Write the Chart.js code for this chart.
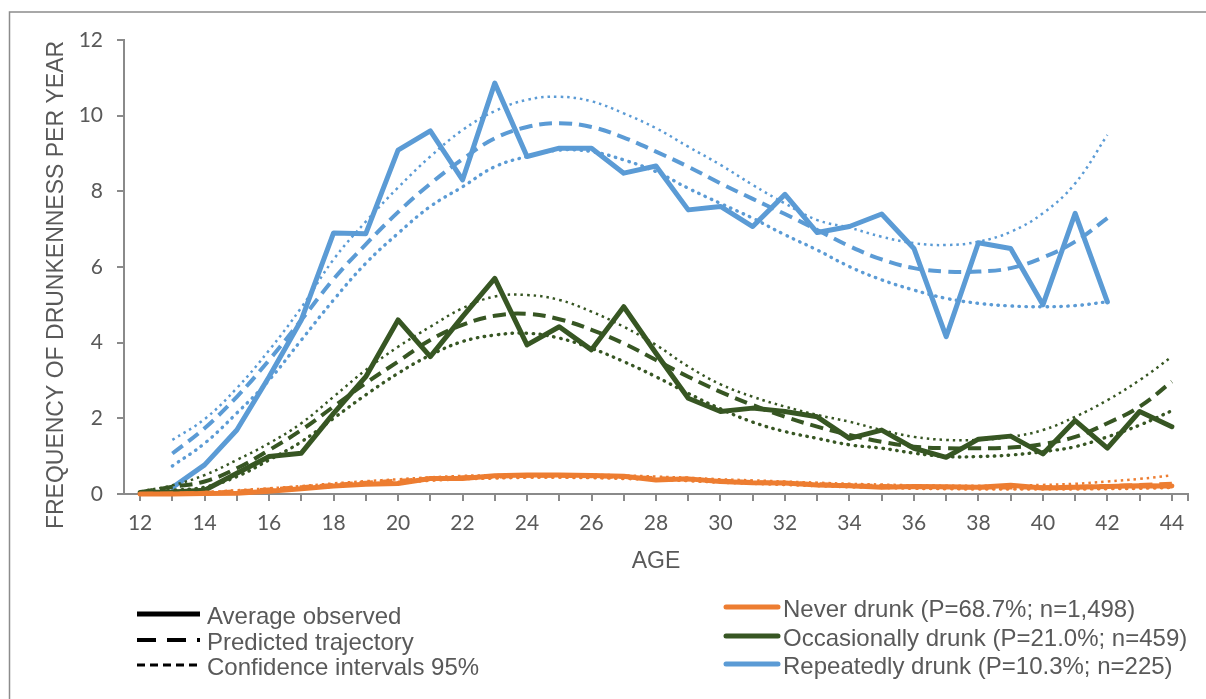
<!DOCTYPE html>
<html>
<head>
<meta charset="utf-8">
<script src="https://cdn.jsdelivr.net/npm/chart.js@4/dist/chart.umd.min.js"></script>
<style>
  html, body { margin: 0; padding: 0; background: #ffffff; }
  canvas { display: block; }
</style>
</head>
<body>
<canvas id="chart" width="1206" height="699"></canvas>
<script>
// Ages (one point per year of age)
const ages = [12, 13, 14, 15, 16, 17, 18, 19, 20, 21, 22, 23, 24, 25, 26, 27, 28, 29, 30,
              31, 32, 33, 34, 35, 36, 37, 38, 39, 40, 41, 42, 43, 44];
const ageTickLabels = ['12', '14', '16', '18', '20', '22', '24', '26', '28', '30',
                       '32', '34', '36', '38', '40', '42', '44'];
const freqTicks = [0, 2, 4, 6, 8, 10, 12];

// Never drunk
const neverObserved = [0, 0, 0.01, 0.02, 0.07, 0.14, 0.21, 0.26, 0.28, 0.41, 0.41, 0.48, 0.5, 0.5,
  0.49, 0.47, 0.37, 0.4, 0.33, 0.3, 0.29, 0.24, 0.22, 0.18, 0.2, 0.19, 0.18, 0.23, 0.16, 0.18, 0.2, 0.22, 0.21];
const neverPredicted = [0, 0.01, 0.03, 0.07, 0.12, 0.18, 0.24, 0.3, 0.35, 0.4, 0.44, 0.46, 0.48, 0.48,
  0.47, 0.45, 0.42, 0.39, 0.35, 0.32, 0.29, 0.26, 0.23, 0.21, 0.19, 0.18, 0.17, 0.17, 0.18, 0.19, 0.21, 0.24, 0.27];
const neverUpper = [0.01, 0.02, 0.05, 0.1, 0.15, 0.21, 0.28, 0.34, 0.39, 0.44, 0.48, 0.5, 0.52, 0.52,
  0.51, 0.49, 0.46, 0.43, 0.39, 0.36, 0.33, 0.3, 0.27, 0.25, 0.23, 0.22, 0.22, 0.22, 0.24, 0.27, 0.33, 0.4, 0.49];
const neverLower = [0, 0, 0.01, 0.04, 0.09, 0.15, 0.2, 0.26, 0.31, 0.36, 0.4, 0.42, 0.44, 0.44,
  0.43, 0.41, 0.38, 0.35, 0.31, 0.28, 0.25, 0.22, 0.19, 0.17, 0.15, 0.14, 0.13, 0.13, 0.13, 0.13, 0.14, 0.15, 0.17];

// Occasionally drunk
const occObserved = [0.04, 0.05, 0.1, 0.55, 0.99, 1.08, 2.13, 3.1, 4.6, 3.63, 4.69, 5.7, 3.94, 4.42,
  3.81, 4.95, 3.72, 2.53, 2.18, 2.27, 2.18, 2.04, 1.47, 1.69, 1.21, 0.97, 1.45, 1.53, 1.06, 1.94, 1.21, 2.18, 1.78];
const occPredicted = [0.05, 0.19, 0.33, 0.68, 1.16, 1.69, 2.31, 2.93, 3.5, 4.07, 4.47, 4.71, 4.76, 4.62,
  4.34, 3.98, 3.54, 3.1, 2.7, 2.35, 2.04, 1.78, 1.56, 1.38, 1.25, 1.21, 1.21, 1.23, 1.32, 1.51, 1.87, 2.31, 2.97];
const occUpper = [0.07, 0.23, 0.5, 0.9, 1.34, 1.87, 2.57, 3.28, 3.89, 4.42, 4.91, 5.22, 5.26, 5.13,
  4.82, 4.42, 3.94, 3.37, 2.9, 2.57, 2.31, 2.09, 1.91, 1.69, 1.51, 1.43, 1.43, 1.51, 1.69, 2.04, 2.48, 3.01, 3.63];
const occLower = [0.03, 0.1, 0.18, 0.46, 0.9, 1.38, 2.0, 2.62, 3.19, 3.67, 4.03, 4.2, 4.25, 4.12,
  3.85, 3.5, 3.1, 2.66, 2.25, 1.9, 1.65, 1.47, 1.3, 1.21, 1.08, 0.99, 0.99, 1.03, 1.12, 1.25, 1.51, 1.82, 2.2];

// Repeatedly drunk (followed from 13 to 42)
const repObserved = [null, 0.17, 0.77, 1.69, 3.1, 4.6, 6.9, 6.88, 9.09, 9.6, 8.3, 10.86, 8.92, 9.14,
  9.14, 8.48, 8.67, 7.51, 7.6, 7.07, 7.92, 6.91, 7.07, 7.4, 6.49, 4.16, 6.64, 6.49, 5.0, 7.42, 5.08, null, null];
const repPredicted = [null, 1.07, 1.74, 2.57, 3.54, 4.6, 5.68, 6.6, 7.45, 8.2, 8.85, 9.4, 9.7, 9.8,
  9.7, 9.42, 9.05, 8.65, 8.21, 7.8, 7.4, 6.98, 6.55, 6.2, 5.97, 5.88, 5.88, 5.97, 6.25, 6.67, 7.29, null, null];
const repUpper = [null, 1.43, 1.98, 2.8, 3.8, 4.93, 6.2, 7.2, 8.1, 8.92, 9.62, 10.12, 10.42, 10.5,
  10.38, 10.06, 9.67, 9.18, 8.7, 8.17, 7.68, 7.24, 7.04, 6.8, 6.63, 6.58, 6.67, 6.93, 7.42, 8.21, 9.49, null, null];
const repLower = [null, 0.74, 1.34, 2.14, 3.01, 4.07, 5.13, 6.1, 6.89, 7.6, 8.12, 8.65, 8.92, 9.09,
  9.05, 8.83, 8.52, 8.08, 7.68, 7.29, 6.85, 6.45, 6.01, 5.66, 5.39, 5.17, 5.04, 4.97, 4.95, 4.98, 5.08, null, null];

const groups = [
  { label: 'Never drunk (P=68.7%; n=1,498)', color: '#ED7D31',
    observed: neverObserved, predicted: neverPredicted, upper: neverUpper, lower: neverLower },
  { label: 'Occasionally drunk (P=21.0%; n=459)', color: '#375623',
    observed: occObserved, predicted: occPredicted, upper: occUpper, lower: occLower },
  { label: 'Repeatedly drunk (P=10.3%; n=225)', color: '#5B9BD5',
    observed: repObserved, predicted: repPredicted, upper: repUpper, lower: repLower }
];

const lineKeys = ['Average observed', 'Predicted trajectory', 'Confidence intervals 95%'];
const xTitle = 'AGE';
const yTitle = 'FREQUENCY OF DRUNKENNESS PER YEAR';

const TEXT = '#595959';
const AXIS = '#8a8a8a';
const TITLE_FONT = '23px "Liberation Sans", Arial, sans-serif';
const KEY_FONT = '24px "Liberation Sans", Arial, sans-serif';

function toPoints(values) {
  const pts = [];
  values.forEach((v, i) => { if (v !== null) pts.push({ x: ages[i], y: v }); });
  return pts;
}

const datasets = [];
groups.forEach(g => {
  datasets.push({ label: g.label + ' upper', data: toPoints(g.upper), borderColor: g.color,
    borderWidth: 2.5, borderDash: [2.5, 4], tension: 0.4, pointRadius: 0, clip: false });
  datasets.push({ label: g.label + ' lower', data: toPoints(g.lower), borderColor: g.color,
    borderWidth: 3.4, borderDash: [0.5, 6.5], borderCapStyle: 'round', tension: 0.4, pointRadius: 0, clip: false });
  datasets.push({ label: g.label + ' predicted', data: toPoints(g.predicted), borderColor: g.color,
    borderWidth: 4, borderDash: [13, 7], tension: 0.4, pointRadius: 0, clip: false });
  datasets.push({ label: g.label, data: toPoints(g.observed), borderColor: g.color,
    borderWidth: 5, borderJoinStyle: 'round', borderCapStyle: 'round', tension: 0, pointRadius: 0, clip: false });
});

// Frame, axis titles and the two legend blocks
const decorations = {
  id: 'decorations',
  afterDraw(chart) {
    const ctx = chart.ctx;
    const area = chart.chartArea;
    ctx.save();

    ctx.strokeStyle = '#8c8c8c';
    ctx.lineWidth = 1.5;
    ctx.beginPath();
    ctx.moveTo(9.5, 720);
    ctx.lineTo(9.5, 12);
    ctx.lineTo(1230, 12);
    ctx.stroke();

    ctx.fillStyle = TEXT;
    ctx.font = TITLE_FONT;
    ctx.textAlign = 'center';
    ctx.textBaseline = 'middle';
    ctx.fillText(xTitle, (area.left + area.right) / 2, 562);
    ctx.save();
    ctx.translate(57, 285);
    ctx.rotate(-Math.PI / 2);
    ctx.fillText(yTitle, 0, 0);
    ctx.restore();

    // line-style key
    ctx.font = KEY_FONT;
    ctx.textAlign = 'left';
    const keyY = [614, 640, 665];
    const keyStyles = [
      { w: 5, dash: [] },
      { w: 4, dash: [19, 11] },
      { w: 3, dash: [8, 5] }
    ];
    lineKeys.forEach((t, i) => {
      ctx.strokeStyle = '#000000';
      ctx.lineWidth = keyStyles[i].w;
      ctx.setLineDash(keyStyles[i].dash);
      ctx.lineCap = 'butt';
      ctx.beginPath();
      ctx.moveTo(137, keyY[i]);
      ctx.lineTo(200, keyY[i]);
      ctx.stroke();
      ctx.setLineDash([]);
      ctx.fillStyle = TEXT;
      ctx.fillText(t, 207, keyY[i] + 3);
    });

    // group colour key
    const grpY = [607, 636, 664];
    groups.forEach((g, i) => {
      ctx.strokeStyle = g.color;
      ctx.lineWidth = 5;
      ctx.lineCap = 'round';
      ctx.beginPath();
      ctx.moveTo(726, grpY[i]);
      ctx.lineTo(778, grpY[i]);
      ctx.stroke();
      ctx.fillStyle = TEXT;
      ctx.fillText(g.label, 783, grpY[i] + 3);
    });
    ctx.restore();
  }
};

new Chart(document.getElementById('chart'), {
  type: 'line',
  data: { datasets },
  options: {
    responsive: false,
    animation: false,
    devicePixelRatio: 1,
    layout: { padding: { top: 40, right: 18, bottom: 0, left: 0 } },
    plugins: { legend: { display: false }, tooltip: { enabled: false } },
    scales: {
      x: {
        type: 'linear', min: 11.5, max: 44.5,
        afterBuildTicks: s => {
          s.ticks = ages.map(a => ({ value: a })).concat([{ value: 44.5 }]);
        },
        afterFit: s => { s.height = 205; },
        ticks: {
          autoSkip: false, maxRotation: 0, padding: 10, color: TEXT,
          font: { family: 'Lato', size: 21 },
          callback: v => ageTickLabels.includes(String(v)) ? String(v) : ''
        },
        grid: { drawOnChartArea: false, drawTicks: true, tickLength: 7, color: AXIS, lineWidth: 2 },
        border: { display: true, color: AXIS, width: 2 }
      },
      y: {
        min: 0, max: 12,
        afterBuildTicks: s => { s.ticks = freqTicks.map(v => ({ value: v })); },
        afterFit: s => { s.width = 124; },
        ticks: { padding: 14, color: TEXT, font: { family: 'Lato', size: 21 } },
        grid: { drawOnChartArea: false, drawTicks: true, tickLength: 7, color: AXIS, lineWidth: 2 },
        border: { display: true, color: AXIS, width: 2 }
      }
    }
  },
  plugins: [decorations]
});
</script>
</body>
</html>
